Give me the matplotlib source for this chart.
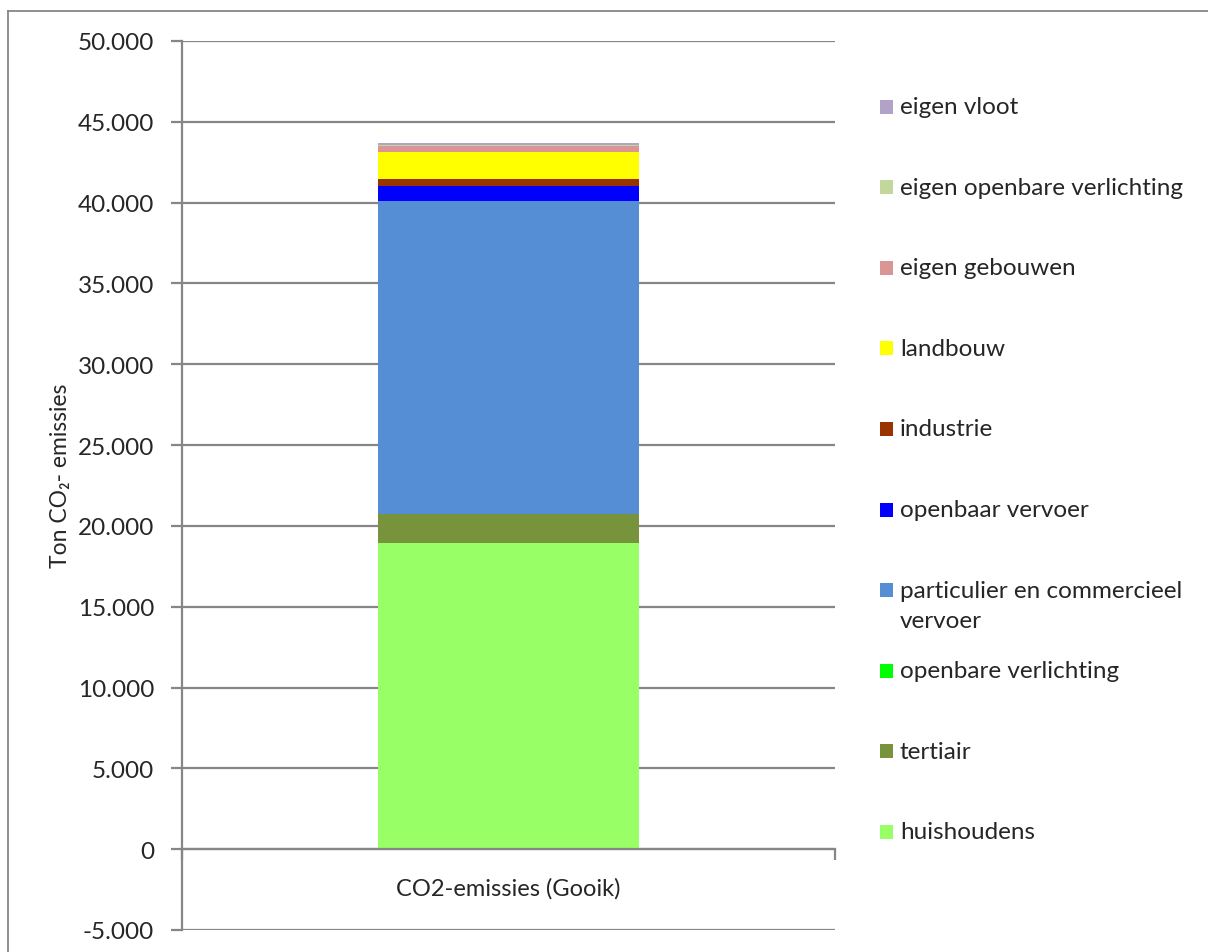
import matplotlib
matplotlib.use("Agg")
import matplotlib.pyplot as plt
from matplotlib.patches import Rectangle
from matplotlib.lines import Line2D
from matplotlib.ticker import FuncFormatter, FixedLocator

plt.rcParams['font.family'] = ['Lato', 'DejaVu Sans']

category = "CO2-emissies (Gooik)"
sectors = ["huishoudens", "tertiair", "openbare verlichting",
           "particulier en commercieel\nvervoer", "openbaar vervoer",
           "industrie", "landbouw", "eigen gebouwen",
           "eigen openbare verlichting", "eigen vloot"]
values = [18950, 1790, 0, 19390, 870, 480, 1670, 330, 105, 125]
colors = ["#99FF66", "#77933C", "#00FF00", "#558ED5", "#0000FF",
          "#993300", "#FFFF00", "#D99694", "#C3D69B", "#B3A2C7"]
yticks = list(range(-5000, 50001, 5000))

W, H = 1208, 953
fig = plt.figure(figsize=(W / 100, H / 100), dpi=100)
grey = "#868686"
fig.lines.append(Line2D([8 / W, 1.0], [1 - 12 / H] * 2, transform=fig.transFigure,
                        color=grey, lw=1.3))
fig.lines.append(Line2D([8 / W] * 2, [0, 1 - 12 / H], transform=fig.transFigure,
                        color=grey, lw=1.3))

ax = fig.add_axes([182 / W, 1 - 931 / H, 653 / W, 889 / H])

bottom = 0
for v, c in zip(values, colors):
    ax.bar(0, v, width=0.4, bottom=bottom, color=c, edgecolor="none", zorder=3)
    bottom += v

ax.set_xlim(-0.5, 0.5)
ax.set_ylim(-5000, 50000)
ax.set_yticks(yticks)
ax.yaxis.set_major_formatter(FuncFormatter(lambda v, p: f"{v:,.0f}".replace(",", ".")))
ax.grid(axis="y", color=grey, lw=1.6, zorder=1)
ax.tick_params(axis="y", length=8, width=1.6, color=grey, labelsize=17.5,
               labelcolor="#262626", pad=12)

for s in ["top", "right"]:
    ax.spines[s].set_visible(False)
ax.spines["left"].set_color(grey)
ax.spines["left"].set_linewidth(1.6)
ax.spines["bottom"].set_position(("data", 0))
ax.spines["bottom"].set_color(grey)
ax.spines["bottom"].set_linewidth(1.6)
ax.spines["bottom"].set_zorder(4)

ax.xaxis.set_major_locator(FixedLocator([-0.5, 0.5]))
ax.xaxis.set_major_formatter(FuncFormatter(lambda v, p: ""))
ax.xaxis.set_minor_locator(FixedLocator([0]))
ax.xaxis.set_minor_formatter(FuncFormatter(lambda v, p: category))
ax.tick_params(axis="x", which="major", length=8, width=1.6, color=grey)
ax.tick_params(axis="x", which="minor", length=0, pad=20, labelsize=17,
               labelcolor="#262626")

fig.text(61 / W, 1 - 476 / H, "Ton CO\u2082- emissies", rotation=90,
         ha="center", va="center", fontsize=16.5, color="#262626")

# legend (reverse stack order)
for i, (lab, c) in enumerate(zip(sectors[::-1], colors[::-1])):
    yc = 107.5 + i * 80.6
    fig.patches.append(Rectangle((880 / W, 1 - (yc + 7) / H), 13 / W, 14 / H,
                                 transform=fig.transFigure, facecolor=c,
                                 edgecolor="none"))
    for k, line in enumerate(lab.split("\n")):
        fig.text(900 / W, 1 - (yc + 30 * k) / H, line, ha="left", va="center",
                 fontsize=17.5, color="#262626")

fig.savefig("out.png", dpi=100)
